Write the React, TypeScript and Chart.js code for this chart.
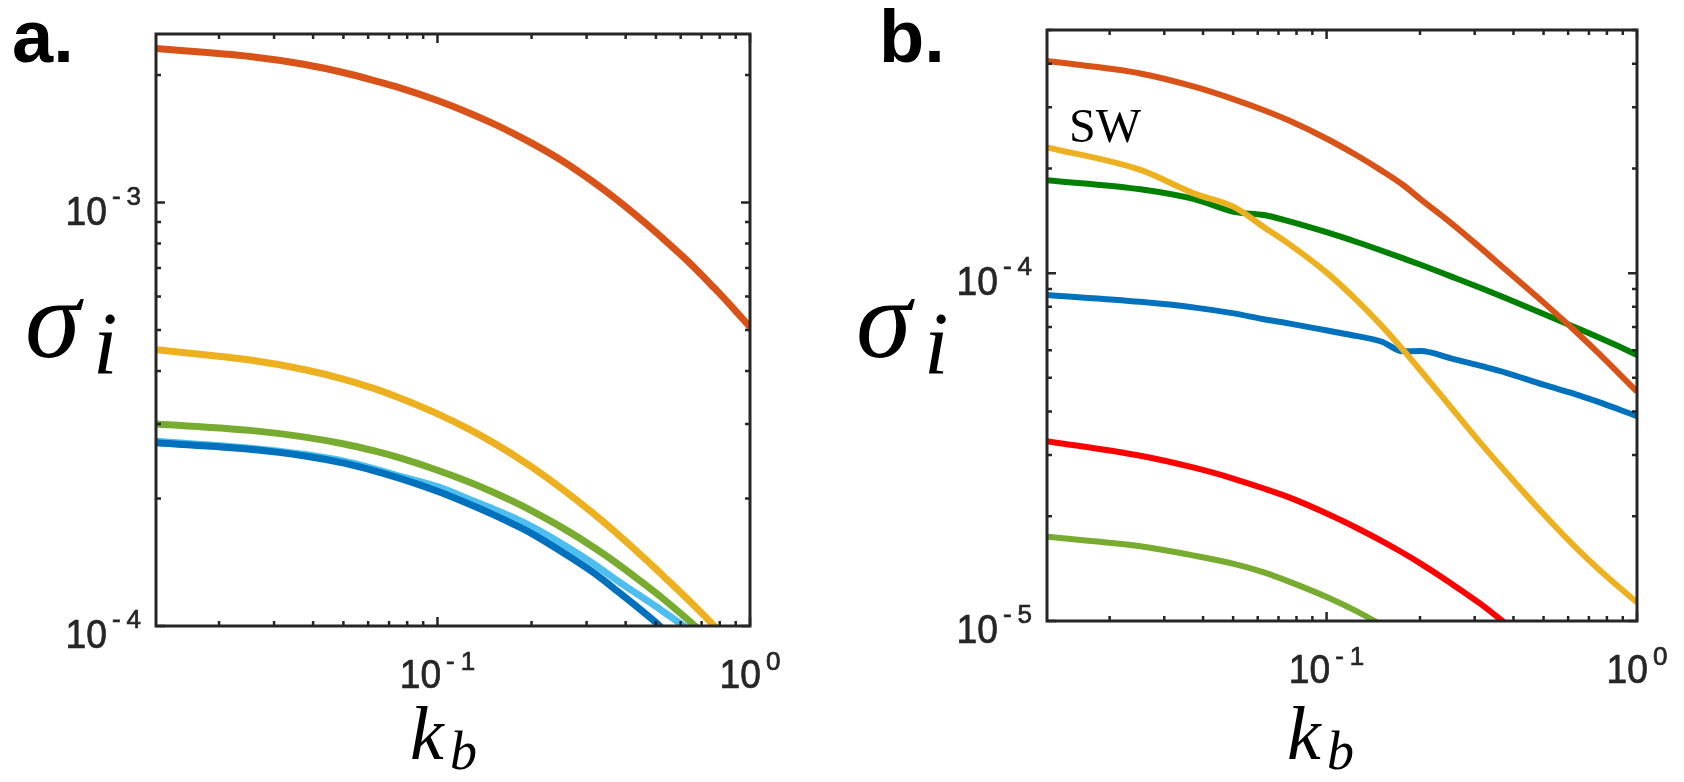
import { useEffect, useRef } from 'react';
import { Chart, registerables } from 'chart.js';

Chart.register(...registerables);

const W = 1684;
const H = 782;

// ---------- Panel a data ----------
const kA = [0.01257, 0.02513, 0.0377, 0.05027, 0.06283, 0.0754, 0.10053, 0.12566, 0.1508, 0.17593, 0.20106, 0.25133, 0.31416, 0.37699, 0.50265, 0.52779, 0.62832, 0.71628, 0.75398, 0.77911, 0.87965, 1.0];
const orangeA = [2.31e-3, 2.213e-3, 2.118e-3, 2.025e-3, 1.94e-3, 1.868e-3, 1.739e-3, 1.63e-3, 1.536e-3, 1.453e-3, 1.379e-3, 1.253e-3, 1.12e-3, 1.012e-3, 8.48e-4, 8.21e-4, 7.3e-4, 6.63e-4, 6.37e-4, 6.22e-4, 5.65e-4, 5.08e-4];
const yellowA = [4.49e-4, 4.248e-4, 4.029e-4, 3.825e-4, 3.634e-4, 3.46e-4, 3.165e-4, 2.92e-4, 2.71e-4, 2.527e-4, 2.368e-4, 2.104e-4, 1.848e-4, 1.648e-4, 1.359e-4, 1.313e-4, 1.161e-4, 1.055e-4, 1.015e-4, 9.9e-5, null, null];
const greenA = [3.0e-4, 2.897e-4, 2.793e-4, 2.69e-4, 2.59e-4, 2.497e-4, 2.33e-4, 2.19e-4, 2.069e-4, 1.963e-4, 1.868e-4, 1.705e-4, 1.539e-4, 1.402e-4, 1.193e-4, 1.159e-4, 1.04e-4, 9.54e-5, null, null, null, null];
const lightBlueA = [2.73e-4, 2.63e-4, 2.54e-4, 2.45e-4, 2.35e-4, 2.26e-4, 2.13e-4, 1.995e-4, 1.89e-4, 1.8e-4, 1.714e-4, 1.56e-4, 1.406e-4, 1.278e-4, 1.109e-4, 1.081e-4, 9.89e-5, null, null, null, null, null];
const darkBlueA = [2.71e-4, 2.615e-4, 2.521e-4, 2.424e-4, 2.325e-4, 2.234e-4, 2.077e-4, 1.943e-4, 1.832e-4, 1.736e-4, 1.65e-4, 1.493e-4, 1.34e-4, 1.208e-4, 1.016e-4, 9.82e-5, null, null, null, null, null, null];

// ---------- Panel b data ----------
const kB = [0.01257, 0.02513, 0.0377, 0.05027, 0.06283, 0.0754, 0.10053, 0.12566, 0.1508, 0.17593, 0.20106, 0.25133, 0.31416, 0.37699, 0.50265, 0.62832, 0.75398, 0.87965, 1.0];
const orangeB = [4.07e-4, 3.75e-4, 3.43e-4, 3.16e-4, 2.94e-4, 2.75e-4, 2.43e-4, 2.175e-4, 1.968e-4, 1.795e-4, 1.63e-4, 1.395e-4, 1.18e-4, 1.024e-4, 8.2e-5, 6.85e-5, 5.87e-5, 5.12e-5, 4.565e-5];
const yellowB = [2.3e-4, 1.98e-4, 1.69e-4, 1.55e-4, 1.356e-4, 1.216e-4, 1.0e-4, 8.32e-5, 7.04e-5, 6.03e-5, 5.24e-5, 4.12e-5, 3.24e-5, 2.687e-5, 2.02e-5, 1.641e-5, 1.406e-5, 1.246e-5, 1.132e-5];
const greenB = [1.85e-4, 1.742e-4, 1.63e-4, 1.5e-4, 1.469e-4, 1.411e-4, 1.309e-4, 1.227e-4, 1.16e-4, 1.104e-4, 1.057e-4, 9.79e-5, 9.06e-5, 8.48e-5, 7.62e-5, 7.0e-5, 6.53e-5, 6.14e-5, 5.82e-5];
const blueB = [8.65e-5, 8.27e-5, 7.96e-5, 7.66e-5, 7.37e-5, 7.17e-5, 6.84e-5, 6.59e-5, 6.35e-5, 5.96e-5, 5.97e-5, 5.69e-5, 5.41e-5, 5.18e-5, 4.77e-5, 4.5e-5, 4.26e-5, 4.05e-5, 3.88e-5];
const redB = [3.29e-5, 2.985e-5, 2.754e-5, 2.564e-5, 2.404e-5, 2.27e-5, 2.034e-5, 1.848e-5, 1.697e-5, 1.571e-5, 1.462e-5, 1.284e-5, 1.118e-5, 9.84e-6, null, null, null, null, null];
const lightGreenB = [1.746e-5, 1.64e-5, 1.54e-5, 1.46e-5, 1.38e-5, 1.3e-5, 1.17e-5, 1.064e-5, 9.72e-6, null, null, null, null, null, null, null, null, null, null];

// ---------- axes ----------
const xRange = [0.01257, 1];
const yRangeA = [1e-4, 2.5e-3];
const yRangeB = [1e-5, 5e-4];
const xTickExp = [-1, 0];
const yTickExpA = [-4, -3];
const yTickExpB = [-5, -4];
const swLabel = { text: 'SW', k: 0.0148, s: 2.38e-4 };

const AXIS = '#262626';

function logTicks(min: number, max: number) {
  const out: { v: number; major: boolean }[] = [];
  for (let d = Math.floor(Math.log10(min)); d <= Math.ceil(Math.log10(max)); d++) {
    for (let m = 1; m <= 9; m++) {
      const v = m * Math.pow(10, d);
      if (v >= min * 0.9999 && v <= max * 1.0001) out.push({ v, major: m === 1 });
    }
  }
  return out;
}

const BASE_FONT = '40px "Liberation Sans", Arial, sans-serif';
const EXP_FONT = '26px "Liberation Sans", Arial, sans-serif';
const SQUEEZE = 0.93;

function textAt(ctx: CanvasRenderingContext2D, txt: string, x: number, y: number, sx: number) {
  ctx.save();
  ctx.translate(x, y);
  ctx.scale(sx, 1);
  ctx.lineWidth = 0.7;
  ctx.strokeStyle = ctx.fillStyle as string;
  ctx.fillText(txt, 0, 0);
  ctx.strokeText(txt, 0, 0);
  ctx.restore();
}

function expWidth(ctx: CanvasRenderingContext2D, e: number) {
  ctx.font = EXP_FONT;
  const digits = String(Math.abs(e));
  const wd = ctx.measureText(digits).width;
  return e < 0 ? ctx.measureText('-').width + 6 + wd : wd;
}

function drawExp(ctx: CanvasRenderingContext2D, e: number, x: number, y: number) {
  ctx.font = EXP_FONT;
  const digits = String(Math.abs(e));
  let cx = x;
  if (e < 0) {
    textAt(ctx, '-', cx, y, 1);
    cx += ctx.measureText('-').width + 6;
  }
  textAt(ctx, digits, cx, y, 1);
}

function drawPow(ctx: CanvasRenderingContext2D, exp: number, x: number, y: number, mode: 'y' | 'x') {
  ctx.font = BASE_FONT;
  const wb = ctx.measureText('10').width * SQUEEZE;
  const we = expWidth(ctx, exp);
  const gap = 5;
  ctx.textAlign = 'left';
  ctx.textBaseline = 'alphabetic';
  ctx.fillStyle = AXIS;
  if (mode === 'y') {
    const eStart = x - we;
    const bStart = eStart - gap - wb;
    ctx.font = BASE_FONT;
    textAt(ctx, '10', bStart, y + 22, SQUEEZE);
    drawExp(ctx, exp, eStart, y + 2);
  } else {
    const total = wb + gap + we;
    const start = x - total / 2;
    ctx.font = BASE_FONT;
    textAt(ctx, '10', start, y + 62, SQUEEZE);
    drawExp(ctx, exp, start + wb + gap, y + 44);
  }
}

type Titles = {
  letter: string; lx: number;
  sx: number; ix: number;
  kx: number; bx: number;
  sw?: boolean;
};

function framePlugin(id: string, yExp: number[], t: Titles) {
  return {
    id,
    afterDraw(chart: any) {
      const { ctx, chartArea: a, scales } = chart;
      const xs = scales.x;
      const ys = scales.y;
      ctx.save();
      ctx.strokeStyle = AXIS;
      ctx.lineWidth = 2.5;
      ctx.beginPath();
      for (const t2 of logTicks(xs.min, xs.max)) {
        const px = xs.getPixelForValue(t2.v);
        const len = t2.major ? 9 : 5;
        ctx.moveTo(px, a.bottom);
        ctx.lineTo(px, a.bottom - len);
        ctx.moveTo(px, a.top);
        ctx.lineTo(px, a.top + len);
      }
      for (const t2 of logTicks(ys.min, ys.max)) {
        const py = ys.getPixelForValue(t2.v);
        const len = t2.major ? 9 : 5;
        ctx.moveTo(a.left, py);
        ctx.lineTo(a.left + len, py);
        ctx.moveTo(a.right, py);
        ctx.lineTo(a.right - len, py);
      }
      ctx.stroke();
      ctx.lineWidth = 3;
      ctx.strokeRect(a.left, a.top, a.right - a.left, a.bottom - a.top);
      for (const e of yExp) drawPow(ctx, e, a.left - 15, ys.getPixelForValue(Math.pow(10, e)), 'y');
      for (const e of xTickExp) drawPow(ctx, e, xs.getPixelForValue(Math.pow(10, e)), a.bottom, 'x');
      ctx.fillStyle = '#000';
      ctx.textAlign = 'left';
      ctx.textBaseline = 'alphabetic';
      ctx.font = 'bold 74px "Liberation Sans", Arial, sans-serif';
      ctx.fillText(t.letter, t.lx, 62);
      ctx.font = 'italic 112px "Liberation Serif", "Times New Roman", serif';
      ctx.fillText('σ', t.sx, 357);
      ctx.font = 'italic 88px "Liberation Serif", "Times New Roman", serif';
      ctx.fillText('i', t.ix, 373);
      ctx.font = 'italic 76px "Liberation Serif", "Times New Roman", serif';
      ctx.fillText('k', t.kx, 759);
      ctx.font = 'italic 54px "Liberation Serif", "Times New Roman", serif';
      ctx.fillText('b', t.bx, 769);
      if (t.sw) {
        ctx.font = '48px "Liberation Serif", "Times New Roman", serif';
        ctx.fillText(swLabel.text, xs.getPixelForValue(swLabel.k), ys.getPixelForValue(swLabel.s));
      }
      ctx.restore();
    },
  };
}

function ds(k: number[], vals: (number | null)[], color: string, width: number) {
  return {
    data: k.map((x, i) => ({ x, y: vals[i] })),
    borderColor: color,
    backgroundColor: color,
    borderWidth: width,
    pointRadius: 0,
    cubicInterpolationMode: 'monotone',
    fill: false,
    clip: 0,
    spanGaps: false,
  };
}

function makeConfig(datasets: any[], yRange: number[], area: { l: number; t: number; r: number; b: number }, plugin: any) {
  return {
    type: 'line',
    data: { datasets },
    options: {
      responsive: false,
      animation: false,
      devicePixelRatio: 1,
      layout: { padding: { left: area.l, top: area.t, right: W - area.r, bottom: H - area.b } },
      scales: {
        x: { type: 'logarithmic', min: xRange[0], max: xRange[1], display: false, bounds: 'data' },
        y: { type: 'logarithmic', min: yRange[0], max: yRange[1], display: false, bounds: 'data' },
      },
      elements: { line: { borderCapStyle: 'butt', borderJoinStyle: 'round' } },
      plugins: { legend: { display: false }, tooltip: { enabled: false }, title: { display: false } },
    },
    plugins: [plugin],
  } as any;
}

export default function App() {
  const refA = useRef<HTMLCanvasElement | null>(null);
  const refB = useRef<HTMLCanvasElement | null>(null);

  useEffect(() => {
    const lwA = 7;
    const lwB = 6;
    const chartA = new Chart(
      refA.current as HTMLCanvasElement,
      makeConfig(
        [
          ds(kA, darkBlueA, '#0072BD', lwA),
          ds(kA, lightBlueA, '#4DBEEE', lwA),
          ds(kA, greenA, '#77AC30', lwA),
          ds(kA, yellowA, '#EDB120', lwA),
          ds(kA, orangeA, '#D95319', lwA),
        ],
        yRangeA,
        { l: 156, t: 34, r: 750, b: 626 },
        framePlugin('frameA', yTickExpA, { letter: 'a.', lx: 12, sx: 25, ix: 93, kx: 410, bx: 450 })
      )
    );
    const chartB = new Chart(
      refB.current as HTMLCanvasElement,
      makeConfig(
        [
          ds(kB, orangeB, '#D95319', lwB),
          ds(kB, yellowB, '#EDB120', lwB),
          ds(kB, greenB, '#008000', lwB),
          ds(kB, blueB, '#0072BD', lwB),
          ds(kB, redB, '#FF0000', lwB),
          ds(kB, lightGreenB, '#77AC30', lwB),
        ],
        yRangeB,
        { l: 1047, t: 30, r: 1637, b: 621 },
        framePlugin('frameB', yTickExpB, { letter: 'b.', lx: 879, sx: 856, ix: 924, kx: 1287, bx: 1327, sw: true })
      )
    );
    return () => {
      chartA.destroy();
      chartB.destroy();
    };
  }, []);

  const cStyle: any = { position: 'absolute', left: 0, top: 0, width: W, height: H };
  return (
    <div style={{ position: 'fixed', left: 0, top: 0, width: W, height: H, background: '#fff', overflow: 'hidden' }}>
      <canvas ref={refA} width={W} height={H} style={cStyle} />
      <canvas ref={refB} width={W} height={H} style={cStyle} />
    </div>
  );
}
